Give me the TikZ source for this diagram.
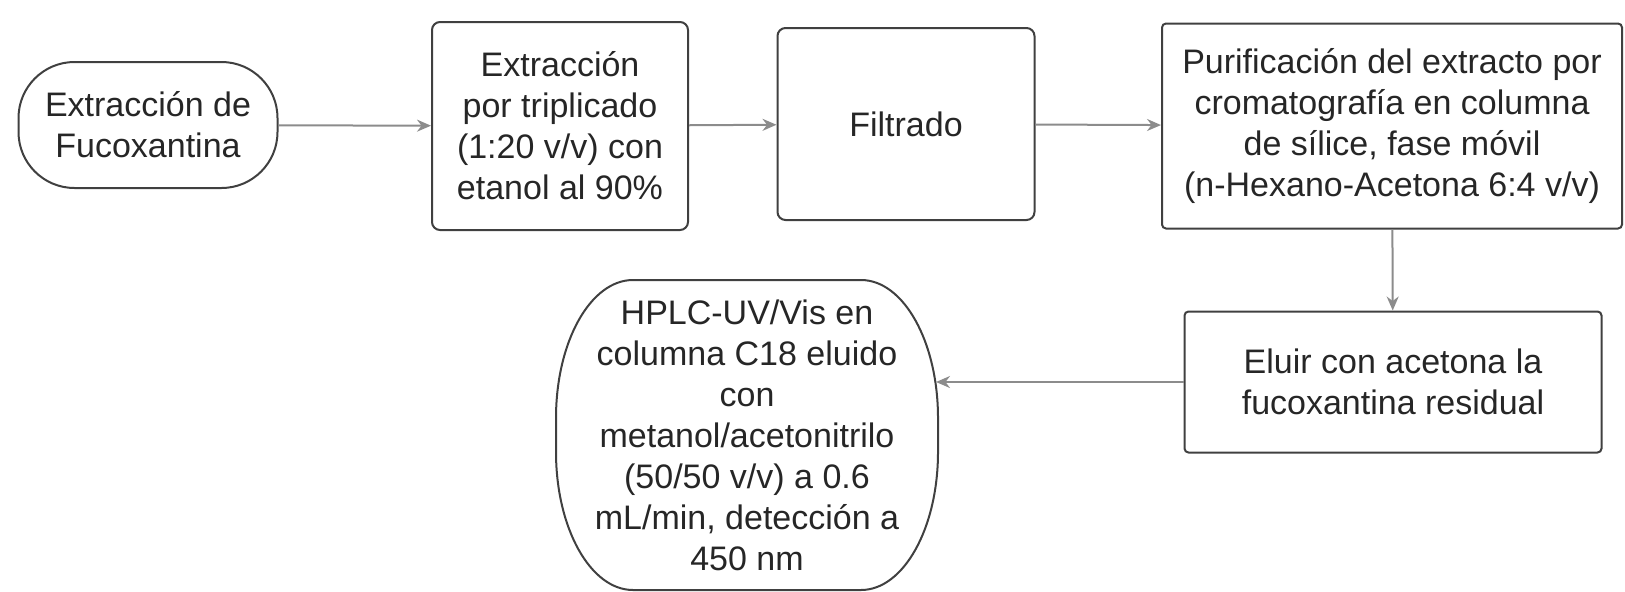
\documentclass[tikz,border=0pt]{standalone}
\usepackage{fontspec}
\setmainfont{Liberation Sans}
\usetikzlibrary{arrows.meta}
\tikzset{
  box/.style={draw=black!75,line width=1pt,align=center,inner sep=0pt,
    font=\fontsize{17}{20.5}\selectfont,text=black!85},
  arr/.style={draw=black!45,line width=1pt,-{Stealth[length=7pt,width=6pt]}}
}
\begin{document}
\begin{tikzpicture}[x=0.5pt,y=0.5pt]
\useasboundingbox (0,0) rectangle (1625,591);
% top row
\node[box,rounded corners=28pt,minimum width=129.5pt,minimum height=63pt] (fuco) at (148,466) {Extracción de\\Fucoxantina};
\node[box,rounded corners=4pt,minimum width=128pt,minimum height=104pt] (trip) at (560,465) {Extracción\\por triplicado\\(1:20 v/v) con\\etanol al 90\%};
\node[box,rounded corners=4pt,minimum width=128.5pt,minimum height=96pt] (filt) at (906,467) {Filtrado};
\node[box,rounded corners=2pt,minimum width=230pt,minimum height=102.5pt] (puri) at (1392,465) {Purificación del extracto por\\cromatografía en columna\\de sílice, fase móvil\\(n-Hexano-Acetona 6:4 v/v)};
% bottom row
\node[box,rounded corners=2pt,minimum width=208.5pt,minimum height=70.5pt] (elu) at (1393,209) {Eluir con acetona la\\fucoxantina residual};
\node[box,draw=none,minimum width=190pt,minimum height=155pt] (hplc) at (747,156) {HPLC-UV/Vis en\\columna C18 eluido\\con\\metanol/acetonitrilo\\(50/50 v/v) a 0.6\\mL/min, detección a\\450 nm};
\draw[draw=black!75,line width=1pt] (633,311) -- (861,311)
  arc[start angle=90,end angle=0,x radius=77,y radius=138] -- (938,139)
  arc[start angle=0,end angle=-90,x radius=77,y radius=138] -- (633,1)
  arc[start angle=270,end angle=180,x radius=77,y radius=138] -- (556,173)
  arc[start angle=180,end angle=90,x radius=77,y radius=138] -- cycle;
\coordinate (hplcin) at (936,209);
% connectors
\draw[arr] (fuco) -- (trip);
\draw[arr] (trip) -- (filt);
\draw[arr] (filt) -- (puri);
\draw[arr] (puri) -- (elu);
\draw[arr] (elu.west) -- (hplcin);
\end{tikzpicture}
\end{document}
